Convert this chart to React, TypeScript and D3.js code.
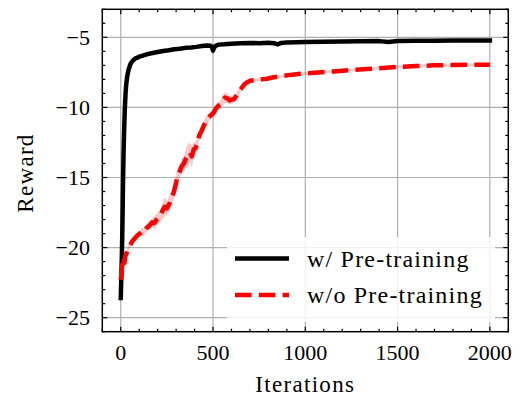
import React from "react";
import * as d3 from "d3";

// black: with pre-training
const blackIter = [0, 3, 6, 8, 10, 12, 15, 18, 22, 26, 30, 35, 40, 45, 50, 55, 60, 70, 80, 90, 100, 120, 140, 160, 180, 200, 230, 260, 290, 320, 350, 380, 410, 440, 470, 485, 495, 500, 505, 515, 530, 560, 600, 650, 700, 750, 800, 830, 850, 870, 900, 950, 1000, 1100, 1200, 1300, 1400, 1450, 1500, 1600, 1700, 1800, 1900, 2000];
const blackMean = [-23.6, -22.2, -20.6, -19.2, -17.6, -15.6, -13.4, -11.8, -10.1, -9.0, -8.3, -7.8, -7.45, -7.2, -7.0, -6.85, -6.75, -6.6, -6.5, -6.45, -6.38, -6.3, -6.22, -6.15, -6.1, -6.05, -5.98, -5.92, -5.85, -5.82, -5.75, -5.72, -5.68, -5.62, -5.58, -5.6, -5.7, -5.95, -5.75, -5.6, -5.52, -5.5, -5.45, -5.43, -5.4, -5.42, -5.38, -5.42, -5.5, -5.4, -5.36, -5.35, -5.33, -5.31, -5.3, -5.28, -5.27, -5.33, -5.26, -5.25, -5.24, -5.23, -5.22, -5.22];
const blackSpread = [0.2, 0.2, 0.2, 0.2, 0.2, 0.2, 0.2, 0.2, 0.2, 0.15, 0.15, 0.1, 0.1, 0.1, 0.1, 0.1, 0.1, 0.1, 0.1, 0.1, 0.1, 0.1, 0.1, 0.1, 0.1, 0.1, 0.1, 0.1, 0.1, 0.1, 0.1, 0.1, 0.1, 0.1, 0.1, 0.15, 0.3, 0.45, 0.3, 0.15, 0.1, 0.1, 0.1, 0.1, 0.1, 0.1, 0.1, 0.1, 0.15, 0.1, 0.1, 0.1, 0.1, 0.1, 0.1, 0.1, 0.1, 0.1, 0.1, 0.1, 0.1, 0.1, 0.1, 0.1];

// red: without pre-training
const redIter = [0, 4, 8, 12, 16, 20, 25, 32, 40, 49, 60, 72, 85, 103, 115, 125, 140, 158, 170, 182, 195, 212, 225, 238, 250, 266, 276, 286, 296, 306, 318, 330, 342, 355, 365, 375, 385, 395, 405, 415, 425, 437, 447, 460, 472, 485, 502, 515, 528, 540, 552, 565, 578, 590, 602, 615, 630, 645, 656, 670, 685, 701, 730, 760, 792, 830, 870, 918, 973, 1050, 1154, 1250, 1335, 1420, 1516, 1600, 1697, 1800, 1900, 2000];
const redMean = [-22.3, -21.8, -21.2, -21.4, -20.9, -21.1, -20.6, -20.4, -20.1, -19.9, -19.6, -19.4, -19.2, -19.0, -18.85, -18.9, -18.6, -18.4, -18.2, -18.25, -18.0, -17.8, -17.4, -17.1, -17.2, -16.8, -16.4, -16.1, -15.6, -15.0, -14.6, -14.2, -14.0, -13.6, -13.4, -13.2, -13.5, -13.0, -12.9, -12.6, -12.0, -11.7, -11.4, -11.0, -10.8, -10.6, -10.4, -10.1, -9.9, -9.8, -9.5, -9.3, -9.35, -9.5, -9.45, -9.4, -9.1, -8.8, -8.6, -8.35, -8.2, -8.1, -8.05, -8.0, -7.95, -7.85, -7.78, -7.68, -7.6, -7.52, -7.43, -7.34, -7.26, -7.18, -7.1, -7.05, -7.0, -6.98, -6.96, -6.95];
const redSpread = [0.3, 0.3, 0.35, 0.3, 0.25, 0.3, 0.25, 0.2, 0.2, 0.2, 0.2, 0.2, 0.25, 0.2, 0.3, 0.25, 0.3, 0.35, 0.3, 0.5, 0.4, 0.45, 0.55, 0.7, 0.5, 0.6, 0.45, 0.5, 0.6, 0.5, 0.45, 0.55, 0.5, 0.7, 0.9, 0.6, 0.8, 0.5, 0.45, 0.5, 0.4, 0.45, 0.35, 0.35, 0.3, 0.3, 0.3, 0.35, 0.3, 0.3, 0.35, 0.4, 0.35, 0.3, 0.3, 0.25, 0.25, 0.2, 0.2, 0.15, 0.15, 0.15, 0.1, 0.1, 0.1, 0.1, 0.1, 0.1, 0.1, 0.1, 0.1, 0.1, 0.1, 0.1, 0.1, 0.1, 0.1, 0.1, 0.1, 0.1];

const seriesNames = ["w/ Pre-training", "w/o Pre-training"];
const xTicks = [0, 500, 1000, 1500, 2000];
const yTicks = [-25, -20, -15, -10, -5];

const W = 522;
const H = 401;
const left = 102.3, right = 508.3, top = 9.3, bottom = 331.7;
const txt = { fontFamily: "Liberation Serif", fill: "#000" };
const wide = { ...txt, letterSpacing: "1.3px" };

export default function App() {
  const x = d3.scaleLinear().domain([-100, 2100]).range([left, right]);
  const y = d3.scaleLinear().domain([-26, -3]).range([bottom, top]);

  const black = blackIter.map((it, i) => ({ it, m: blackMean[i], s: blackSpread[i] }));
  const red = redIter.map((it, i) => ({ it, m: redMean[i], s: redSpread[i] }));

  const line = d3.line<{ it: number; m: number }>().x((d) => x(d.it)).y((d) => y(d.m));
  const band = d3
    .area<{ it: number; m: number; s: number }>()
    .x((d) => x(d.it))
    .y0((d) => y(d.m - d.s))
    .y1((d) => y(d.m + d.s));

  const xMinor = d3.range(-100, 2101, 100);
  const yMinor = d3.range(-26, -2, 1);
  const major = 5, minor = 3;

  const legX = 227, legY = 237, legW = 268, legH = 85;
  const dash = "16.6 7.2";

  return (
    <svg width={W} height={H} style={{ position: "absolute", left: 0, top: 0, background: "#fff" }}>
      <defs>
        <clipPath id="plot">
          <rect x={left} y={top} width={right - left} height={bottom - top} />
        </clipPath>
      </defs>
      {/* grid */}
      {xTicks.map((t) => (
        <line key={"gx" + t} x1={x(t)} x2={x(t)} y1={top} y2={bottom} stroke="#b0b0b0" strokeWidth={1.2} />
      ))}
      {yTicks.map((t) => (
        <line key={"gy" + t} x1={left} x2={right} y1={y(t)} y2={y(t)} stroke="#b0b0b0" strokeWidth={1.2} />
      ))}
      <g clipPath="url(#plot)">
        <path d={band(black) || ""} fill="#000" opacity={0.2} />
        <path d={band(red) || ""} fill="#ff0000" opacity={0.22} />
        <path d={line(black) || ""} fill="none" stroke="#000" strokeWidth={4.5} strokeLinejoin="round" strokeLinecap="square" />
        <path d={line(red) || ""} fill="none" stroke="#ff0000" strokeWidth={4.5} strokeLinejoin="round" strokeDasharray={dash} />
      </g>
      {/* ticks, all sides, inward */}
      {xMinor.map((t) => {
        const len = xTicks.includes(t) ? major : minor;
        return (
          <g key={"tx" + t}>
            <line x1={x(t)} x2={x(t)} y1={bottom} y2={bottom - len} stroke="#000" strokeWidth={1.2} />
            <line x1={x(t)} x2={x(t)} y1={top} y2={top + len} stroke="#000" strokeWidth={1.2} />
          </g>
        );
      })}
      {yMinor.map((t) => {
        const len = yTicks.includes(t) ? major : minor;
        return (
          <g key={"ty" + t}>
            <line x1={left} x2={left + len} y1={y(t)} y2={y(t)} stroke="#000" strokeWidth={1.2} />
            <line x1={right} x2={right - len} y1={y(t)} y2={y(t)} stroke="#000" strokeWidth={1.2} />
          </g>
        );
      })}
      <rect x={left} y={top} width={right - left} height={bottom - top} fill="none" stroke="#000" strokeWidth={1.5} />
      {/* tick labels */}
      {xTicks.map((t) => (
        <text key={"lx" + t} x={x(t)} y={360} fontSize={22} textAnchor="middle" style={txt}>
          {t}
        </text>
      ))}
      {yTicks.map((t) => (
        <text key={"ly" + t} x={90} y={y(t) + 7.5} fontSize={22} textAnchor="end" style={txt}>
          {"\u2212" + Math.abs(t)}
        </text>
      ))}
      <text x={(left + right) / 2} y={392} fontSize={23} textAnchor="middle" style={wide}>
        Iterations
      </text>
      <text transform={`translate(33,173) rotate(-90)`} fontSize={23} textAnchor="middle" style={wide}>
        Reward
      </text>
      {/* legend */}
      <rect x={legX} y={legY} width={legW} height={legH} rx={3} fill="#fff" opacity={0.82} />
      {seriesNames.map((name, i) => {
        const cy = 258.5 + i * 36.5;
        return (
          <g key={name}>
            <line
              x1={235}
              x2={289}
              y1={cy}
              y2={cy}
              stroke={i === 0 ? "#000" : "#ff0000"}
              strokeWidth={4.5}
              strokeDasharray={i === 0 ? undefined : dash}
            />
            <text x={307} y={cy + 8} fontSize={24} style={{ ...txt, letterSpacing: "1.2px" }}>
              {name}
            </text>
          </g>
        );
      })}
    </svg>
  );
}
